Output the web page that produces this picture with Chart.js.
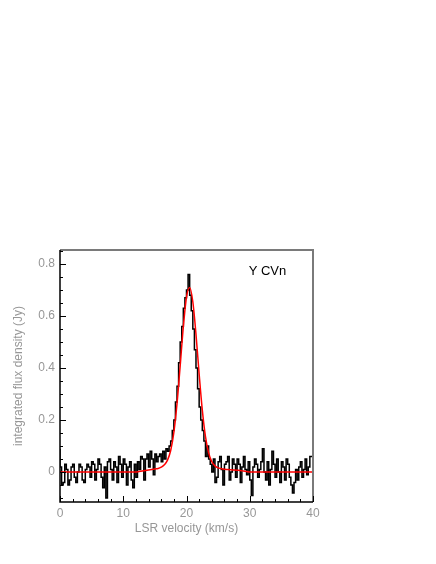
<!DOCTYPE html>
<html>
<head>
<meta charset="utf-8">
<script src="https://cdn.jsdelivr.net/npm/chart.js@4"></script>
<style>
  html, body { margin: 0; padding: 0; background: #fff; }
  #wrap { width: 436px; height: 564px; }
</style>
</head>
<body>
<div id="wrap"><canvas id="specCanvas"></canvas></div>
<script>
// 頻道寬度 0.25 km/s，從 0 開始（左邊界）
const chanStart = 0;
const chanWidth = 0.25;

// 觀測到的積分流量密度 (Jy)
const flux = [
  0.09, 0.02, -0.05, -0.04, 0.03, 0.01, -0.05, -0.03,
  0.02, 0.03, -0.02, -0.04, 0.00, 0.03, 0.02, -0.03,
  -0.04, 0.01, 0.03, 0.02, -0.02, 0.04, 0.03, -0.03,
  0.01, 0.05, 0.03, -0.02, -0.06, 0.02, -0.10, 0.04,
  0.05, 0.01, -0.03, 0.04, 0.02, -0.04, 0.06, 0.03,
  -0.02, 0.05, 0.03, -0.05, 0.02, 0.04, -0.03, -0.06,
  0.03, -0.02, 0.04, 0.01, 0.06, 0.05, -0.03, 0.05,
  0.07, 0.02, 0.08, 0.05, -0.01, 0.07, 0.04, 0.06,
  0.07, 0.04, 0.08, 0.05, 0.09, 0.08, 0.10, 0.12,
  0.16, 0.20, 0.27, 0.33, 0.42, 0.50, 0.56, 0.63,
  0.67, 0.70, 0.76, 0.68, 0.62, 0.55, 0.47, 0.40,
  0.32, 0.25, 0.20, 0.16, 0.12, 0.06, 0.10, 0.05,
  0.03, 0.00, 0.05, -0.04, -0.02, 0.04, 0.06, 0.01,
  -0.05, 0.03, 0.04, 0.06, -0.03, 0.00, 0.05, 0.03,
  -0.02, 0.05, 0.03, -0.04, 0.02, 0.06, 0.01, -0.01,
  0.04, -0.03, -0.09, 0.02, 0.05, 0.03, -0.02, 0.01,
  0.04, 0.09, 0.00, -0.03, 0.04, -0.05, 0.01, 0.08,
  0.03, -0.02, 0.05, 0.00, -0.04, 0.04, 0.02, -0.03,
  0.05, 0.03, -0.02, -0.05, -0.08, -0.04, 0.01, -0.03,
  0.02, 0.04, -0.02, 0.01, 0.05, -0.01, 0.02, 0.06
];

// 擬合曲線（每 0.5 km/s 一點）
const fitVel = [
  0, 0.5, 1, 1.5, 2, 2.5, 3, 3.5, 4, 4.5, 5, 5.5, 6, 6.5, 7, 7.5, 8, 8.5, 9, 9.5,
  10, 10.5, 11, 11.5, 12, 12.5, 13, 13.5, 14, 14.5, 15, 15.5, 16, 16.5, 17, 17.5,
  18, 18.5, 19, 19.5, 20, 20.5, 21, 21.5, 22, 22.5, 23, 23.5, 24, 24.5, 25, 25.5,
  26, 26.5, 27, 27.5, 28, 28.5, 29, 29.5, 30, 30.5, 31, 31.5, 32, 32.5, 33, 33.5,
  34, 34.5, 35, 35.5, 36, 36.5, 37, 37.5, 38, 38.5, 39, 39.5, 40
];
const fitFlux = [
  0, 0, 0, 0, 0, 0, 0, 0, 0, 0, 0, 0, 0, 0, 0, 0, 0, 0, 0, 0,
  0, 0, 0, 0, 0, 0.002, 0.004, 0.006, 0.008, 0.010, 0.012, 0.014, 0.019, 0.028, 0.046, 0.083,
  0.153, 0.263, 0.408, 0.559, 0.673, 0.710, 0.655, 0.530, 0.377, 0.238, 0.136, 0.074, 0.040, 0.024, 0.016, 0.013,
  0.011, 0.010, 0.009, 0.008, 0.007, 0.006, 0.004, 0.002, 0, 0, 0, 0, 0, 0, 0, 0,
  0, 0, 0, 0, 0, 0, 0, 0, 0, 0, 0, 0, 0
];

// 座標軸刻度
const xTicks = [0, 10, 20, 30, 40];
const yTicks = [0, 0.2, 0.4, 0.6, 0.8];
const xMin = 0, xMax = 40;
const yMin = -0.115, yMax = 0.854;
const sourceName = 'Y CVn';

// 組成階梯資料
const histData = flux.map((v, i) => ({ x: chanStart + i * chanWidth, y: v }));
histData.push({ x: chanStart + flux.length * chanWidth, y: flux[flux.length - 1] });
const fitData = fitVel.map((v, i) => ({ x: v, y: fitFlux[i] }));

const grey = '#979797';
const fontName = "'Liberation Sans', Arial, sans-serif";

// 邊框、向內刻度與標註
const frameTicks = {
  id: 'frameTicks',
  afterDatasetsDraw(chart) {
    const { ctx, chartArea: a, scales: { x, y } } = chart;
    ctx.save();
    ctx.lineCap = 'butt';
    ctx.strokeStyle = '#7a7a7a';
    ctx.lineWidth = 2;
    ctx.beginPath();
    ctx.moveTo(a.left, a.top);
    ctx.lineTo(a.right, a.top);
    ctx.lineTo(a.right, a.bottom);
    ctx.stroke();
    ctx.strokeStyle = '#000';
    ctx.lineWidth = 1.5;
    ctx.beginPath();
    ctx.moveTo(a.left, a.top);
    ctx.lineTo(a.left, a.bottom);
    ctx.lineTo(a.right, a.bottom);
    ctx.stroke();

    ctx.lineWidth = 1;
    ctx.beginPath();
    for (let v = xMin; v <= xMax + 1e-9; v += 2) {
      const px = Math.round(x.getPixelForValue(v)) + 0.5;
      const len = xTicks.includes(v) ? 6 : 3;
      ctx.moveTo(px, a.bottom);
      ctx.lineTo(px, a.bottom - len);
    }
    for (let k = -2; k <= 17; k++) {
      const v = k * 0.05;
      if (v < yMin || v > yMax) continue;
      const py = Math.round(y.getPixelForValue(v)) + 0.5;
      const len = (k % 4 === 0) ? 6 : 3;
      ctx.moveTo(a.left, py);
      ctx.lineTo(a.left + len, py);
    }
    ctx.stroke();

    ctx.fillStyle = '#000';
    ctx.font = '13px ' + fontName;
    ctx.textAlign = 'center';
    ctx.textBaseline = 'middle';
    ctx.fillText(sourceName, x.getPixelForValue(32.8), y.getPixelForValue(0.773));
    ctx.restore();
  }
};

const ctx = document.getElementById('specCanvas').getContext('2d');
new Chart(ctx, {
  type: 'line',
  data: {
    datasets: [
      {
        label: 'fit',
        data: fitData,
        borderColor: '#ff0000',
        borderWidth: 1.5,
        pointRadius: 0,
        tension: 0.4,
        cubicInterpolationMode: 'monotone',
        fill: false,
        order: 0
      },
      {
        label: 'spectrum',
        data: histData,
        borderColor: '#000000',
        borderWidth: 1.5,
        pointRadius: 0,
        stepped: 'after',
        fill: false,
        order: 1
      }
    ]
  },
  options: {
    responsive: true,
    maintainAspectRatio: false,
    animation: false,
    layout: { padding: { left: 0, right: 123, top: 250, bottom: 0 } },
    plugins: {
      legend: { display: false },
      tooltip: { enabled: false }
    },
    scales: {
      x: {
        type: 'linear',
        min: xMin,
        max: xMax,
        afterBuildTicks: s => { s.ticks = xTicks.map(v => ({ value: v })); },
        afterFit: s => { s.height = 62; },
        grid: { display: false, drawTicks: false },
        border: { display: false },
        ticks: { color: grey, padding: 4, font: { family: fontName, size: 12 } },
        title: {
          display: true,
          text: 'LSR velocity (km/s)',
          color: grey,
          font: { family: fontName, size: 12 },
          padding: { top: 0, bottom: 28 }
        }
      },
      y: {
        type: 'linear',
        min: yMin,
        max: yMax,
        afterBuildTicks: s => { s.ticks = yTicks.map(v => ({ value: v })); },
        afterFit: s => { s.width = 60; },
        grid: { display: false, drawTicks: false },
        border: { display: false },
        ticks: { color: grey, padding: 5, font: { family: fontName, size: 12 } },
        title: {
          display: true,
          text: 'integrated flux density (Jy)',
          color: grey,
          font: { family: fontName, size: 12 },
          padding: { top: 11, bottom: 0 }
        }
      }
    }
  },
  plugins: [frameTicks]
});
</script>
</body>
</html>
